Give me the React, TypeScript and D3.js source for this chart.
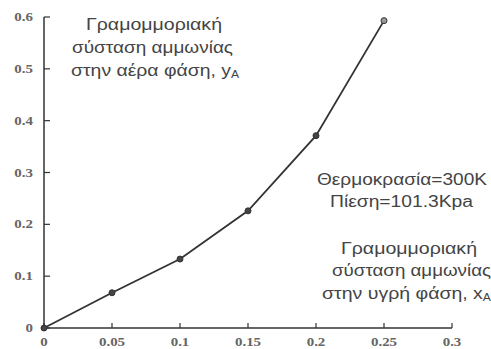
import React from "react";
import * as d3 from "d3";

const xValues = [0, 0.05, 0.1, 0.15, 0.2, 0.25];
const yValues = [0, 0.068, 0.133, 0.226, 0.371, 0.593];
const xTicks = [0, 0.05, 0.1, 0.15, 0.2, 0.25, 0.3];
const xTickLabels = ["0", "0.05", "0.1", "0.15", "0.2", "0.25", "0.3"];
const yTicks = [0, 0.1, 0.2, 0.3, 0.4, 0.5, 0.6];
const yTickLabels = ["0", "0.1", "0.2", "0.3", "0.4", "0.5", "0.6"];
const yLabelLines = ["Γραμομμοριακή", "σύσταση αμμωνίας", "στην αέρα φάση, y"];
const condLines = ["Θερμοκρασία=300K", "Πίεση=101.3Kpa"];
const xLabelLines = ["Γραμομμοριακή", "σύσταση αμμωνίας", "στην υγρή φάση, x"];

type Line = { s: string; cx: number; y: number; w: number; sub?: string };

export default function App() {
  const W = 491, H = 349;
  const x = d3.scaleLinear().domain([0, 0.3]).range([44, 452]);
  const y = d3.scaleLinear().domain([0, 0.6]).range([328, 17]);
  const pts = xValues.map((v, i) => [v, yValues[i]] as [number, number]);
  const line = d3.line<[number, number]>().x(d => x(d[0])).y(d => y(d[1]));
  const tickFont = { fontFamily: "Liberation Serif, serif", fontSize: 11.5, fontWeight: 700, fill: "#666" } as const;
  const txt = { fontFamily: "Liberation Sans, Arial, sans-serif", fontSize: 16, fill: "#444" } as const;

  const blocks: Line[] = [
    { s: yLabelLines[0], cx: 154, y: 30, w: 136 },
    { s: yLabelLines[1], cx: 152.5, y: 53, w: 161 },
    { s: yLabelLines[2], cx: 155, y: 76, w: 168, sub: "A" },
    { s: condLines[0], cx: 402, y: 185, w: 170 },
    { s: condLines[1], cx: 401.5, y: 207, w: 143 },
    { s: xLabelLines[0], cx: 409, y: 254, w: 136 },
    { s: xLabelLines[1], cx: 411.5, y: 276, w: 159 },
    { s: xLabelLines[2], cx: 406.5, y: 299, w: 169, sub: "A" },
  ];

  return (
    <div style={{ position: "fixed", left: 0, top: 0 }}>
      <svg width={W} height={H} style={{ display: "block", background: "#fff" }}>
        <line x1={x(0)} x2={x(0.3)} y1={y(0)} y2={y(0)} stroke="#333" strokeWidth={1.5} />
        <line x1={x(0)} x2={x(0)} y1={y(0)} y2={y(0.6)} stroke="#333" strokeWidth={1.5} />
        {xTicks.map((t, i) => (
          <g key={"xt" + i}>
            <line x1={x(t)} x2={x(t)} y1={y(0)} y2={y(0) - 5} stroke="#333" strokeWidth={1.2} />
            <text transform={`translate(${x(t)},346) scale(1.3,1)`} textAnchor="middle" {...tickFont}>{xTickLabels[i]}</text>
          </g>
        ))}
        {yTicks.map((t, i) => (
          <g key={"yt" + i}>
            <line x1={x(0)} x2={x(0) + 6} y1={y(t)} y2={y(t)} stroke="#333" strokeWidth={1.2} />
            <text transform={`translate(33,${y(t) + 4}) scale(1.3,1)`} textAnchor="end" {...tickFont}>{yTickLabels[i]}</text>
          </g>
        ))}
        <path d={line(pts) || ""} fill="none" stroke="#333" strokeWidth={1.8} />
        {pts.map((p, i) => (
          <circle key={"p" + i} cx={x(p[0])} cy={y(p[1])} r={3} fill={i === pts.length - 1 ? "#999" : "#444"} stroke="#333" strokeWidth={1} />
        ))}
        {blocks.map((b, i) => (
          <text key={"b" + i} x={b.cx - b.w / 2} y={b.y} textLength={b.w} lengthAdjust="spacingAndGlyphs" {...txt}>
            {b.s}
            {b.sub ? <tspan fontSize={10} dy={2}>{b.sub}</tspan> : null}
          </text>
        ))}
      </svg>
    </div>
  );
}
